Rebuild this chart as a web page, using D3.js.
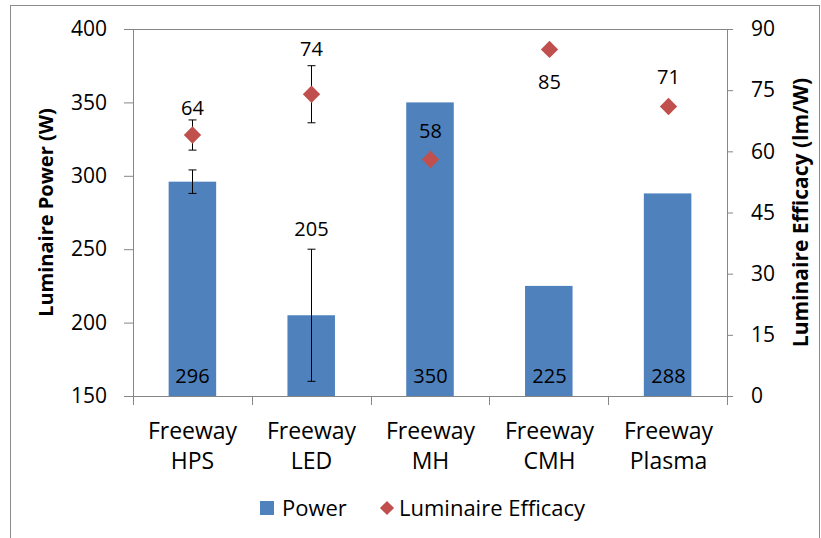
<!DOCTYPE html>
<html>
<head>
<meta charset="utf-8">
<script src="https://cdn.jsdelivr.net/npm/d3@7"></script>
<style>
  body { margin: 0; background: #fff; }
  text { font-family: "Open Sans", sans-serif; fill: #000; }
</style>
</head>
<body>
<div id="chart"></div>
<script>
// chart data
var categories = ["Freeway HPS", "Freeway LED", "Freeway MH", "Freeway CMH", "Freeway Plasma"];
var power = [296, 205, 350, 225, 288];
var powerErr = [8, 45, null, null, null];
var efficacy = [64, 74, 58, 85, 71];
var efficacyErr = [3.7, 7, null, null, null];
var powerTicks = [150, 200, 250, 300, 350, 400];
var efficacyTicks = [0, 15, 30, 45, 60, 75, 90];

var svgWidth = 821;
var svgHeight = 538;

var margin = { top: 29, right: 94, bottom: 142, left: 133 };
var chartWidth = svgWidth - margin.left - margin.right;
var chartHeight = svgHeight - margin.top - margin.bottom;

var barColor = "#4F81BD";
var dotColor = "#C0504D";
var axisColor = "#868686";

var svg = d3.select("#chart")
  .append("svg")
  .attr("width", svgWidth)
  .attr("height", svgHeight);

// outer frame
svg.append("rect")
  .attr("x", 10.5).attr("y", 5.5)
  .attr("width", 809).attr("height", 540)
  .attr("fill", "none")
  .attr("stroke", "#8c8c8c");

var chartGroup = svg.append("g")
  .attr("transform", `translate(${margin.left}, ${margin.top})`);

var xScale = d3.scaleBand()
  .domain(categories)
  .range([0, chartWidth])
  .paddingInner(0.6)
  .paddingOuter(0.3);

var yLeft = d3.scaleLinear().domain([150, 400]).range([chartHeight, 0]);
var yRight = d3.scaleLinear().domain([0, 90]).range([chartHeight, 0]);

// plot area top border
chartGroup.append("line")
  .attr("x1", 0).attr("x2", chartWidth)
  .attr("y1", 0.5).attr("y2", 0.5)
  .attr("stroke", axisColor);

// bars
chartGroup.selectAll(".bar")
  .data(power)
  .enter().append("rect")
  .attr("class", "bar")
  .attr("x", (d, i) => xScale(categories[i]))
  .attr("y", d => yLeft(d))
  .attr("width", xScale.bandwidth())
  .attr("height", d => chartHeight - yLeft(d))
  .attr("fill", barColor);

// error bar helper
function errorBar(cx, yTop, yBot) {
  var g = chartGroup.append("g").attr("stroke", "#000").attr("stroke-width", 1);
  g.append("line").attr("x1", cx).attr("x2", cx).attr("y1", yTop).attr("y2", yBot);
  g.append("line").attr("x1", cx - 4).attr("x2", cx + 4).attr("y1", yTop).attr("y2", yTop);
  g.append("line").attr("x1", cx - 4).attr("x2", cx + 4).attr("y1", yBot).attr("y2", yBot);
}

var cx = i => Math.round(xScale(categories[i]) + xScale.bandwidth() / 2) + 0.5;

power.forEach(function(d, i) {
  if (powerErr[i] != null) errorBar(cx(i), yLeft(d + powerErr[i]), yLeft(d - powerErr[i]));
});
efficacy.forEach(function(d, i) {
  if (efficacyErr[i] != null) errorBar(cx(i), yRight(d + efficacyErr[i]), yRight(d - efficacyErr[i]));
});

// diamonds
var diamond = d3.symbol().type(d3.symbolSquare).size(150);
chartGroup.selectAll(".dot")
  .data(efficacy)
  .enter().append("path")
  .attr("class", "dot")
  .attr("d", diamond)
  .attr("transform", (d, i) => `translate(${cx(i)}, ${yRight(d)}) rotate(45)`)
  .attr("fill", dotColor);

// power labels near base of bars (LED sits above its error bar)
chartGroup.selectAll(".plabel")
  .data(power)
  .enter().append("text")
  .attr("class", "plabel")
  .attr("x", (d, i) => cx(i))
  .attr("y", (d, i) => i === 1 ? yLeft(d + powerErr[i]) - 13 : chartHeight - 13)
  .attr("text-anchor", "middle")
  .attr("font-size", 20)
  .text(d => d);

// efficacy labels
var effOffset = [-27, -45, -28, 33, -29];
chartGroup.selectAll(".elabel")
  .data(efficacy)
  .enter().append("text")
  .attr("class", "elabel")
  .attr("x", (d, i) => cx(i))
  .attr("y", (d, i) => yRight(d) + effOffset[i] + 7)
  .attr("text-anchor", "middle")
  .attr("font-size", 20)
  .text(d => d);

// axes
var leftAxis = d3.axisLeft(yLeft).tickValues(powerTicks).tickSize(9).tickPadding(17);
var rightAxis = d3.axisRight(yRight).tickValues(efficacyTicks).tickSize(6).tickPadding(18);
var bottomAxis = d3.axisBottom(xScale).tickSize(0).tickFormat("");

var gl = chartGroup.append("g").call(leftAxis);
var gr = chartGroup.append("g").attr("transform", `translate(${chartWidth}, 0)`).call(rightAxis);
var gb = chartGroup.append("g").attr("transform", `translate(0, ${chartHeight})`).call(bottomAxis);

[gl, gr, gb].forEach(function(g) {
  g.select(".domain").attr("stroke", axisColor);
  g.selectAll(".tick line").attr("stroke", axisColor);
  g.selectAll(".tick text").attr("font-size", 21).attr("font-family", "'Open Sans', sans-serif").attr("fill", "#000");
});

// category separator ticks
var sepTicks = d3.range(categories.length + 1).map(i => xScale.step() * i);
chartGroup.selectAll(".sep")
  .data(sepTicks)
  .enter().append("line")
  .attr("x1", d => Math.round(d) + 0.5).attr("x2", d => Math.round(d) + 0.5)
  .attr("y1", chartHeight).attr("y2", chartHeight + 9)
  .attr("stroke", axisColor);

// category labels in two lines
categories.forEach(function(c, i) {
  var parts = c.split(" ");
  var t = chartGroup.append("text")
    .attr("x", cx(i))
    .attr("y", chartHeight + 43)
    .attr("text-anchor", "middle")
    .attr("font-size", 23);
  t.append("tspan").attr("x", cx(i)).text(parts[0]);
  t.append("tspan").attr("x", cx(i)).attr("dy", 30).text(parts[1]);
});

// axis titles
svg.append("text")
  .attr("transform", `translate(53, ${margin.top + chartHeight / 2}) rotate(-90)`)
  .attr("text-anchor", "middle")
  .attr("font-size", 20)
  .attr("font-weight", "bold")
  .text("Luminaire Power (W)");

svg.append("text")
  .attr("transform", `translate(808, ${margin.top + chartHeight / 2}) rotate(-90)`)
  .attr("text-anchor", "middle")
  .attr("font-size", 21)
  .attr("font-weight", "bold")
  .text("Luminaire Efficacy (lm/W)");

// legend
var legend = svg.append("g").attr("transform", "translate(0, 508)");
legend.append("rect")
  .attr("x", 260).attr("y", -7)
  .attr("width", 14).attr("height", 14)
  .attr("fill", barColor);
legend.append("text")
  .attr("x", 282).attr("y", 8)
  .attr("font-size", 22)
  .text("Power");
legend.append("path")
  .attr("d", d3.symbol().type(d3.symbolSquare).size(100))
  .attr("transform", "translate(387, 0) rotate(45)")
  .attr("fill", dotColor);
legend.append("text")
  .attr("x", 399).attr("y", 8)
  .attr("font-size", 22)
  .text("Luminaire Efficacy");
</script>
</body>
</html>
